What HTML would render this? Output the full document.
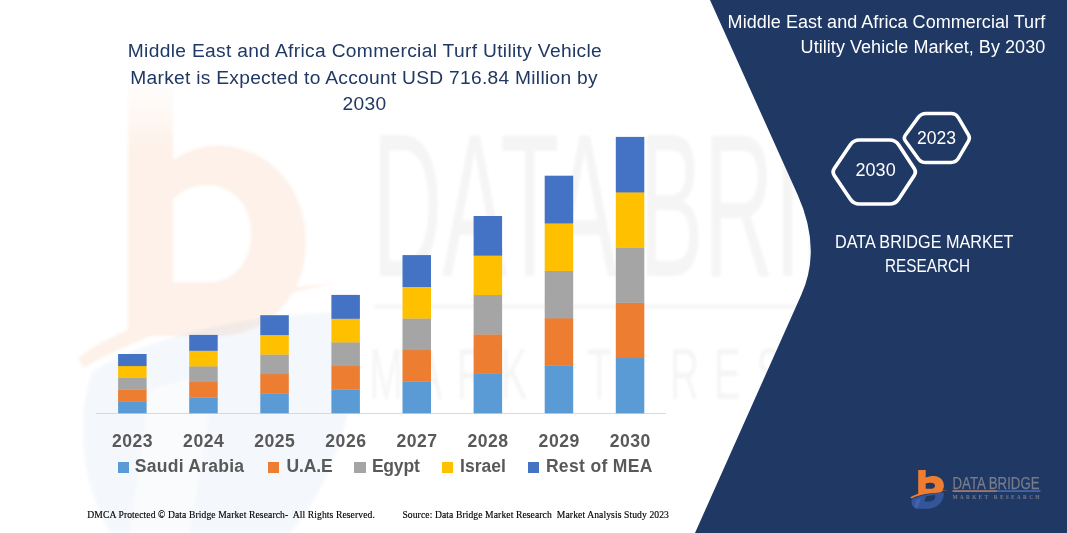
<!DOCTYPE html>
<html><head><meta charset="utf-8">
<style>
html,body{margin:0;padding:0;}
body{width:1067px;height:533px;position:relative;overflow:hidden;background:#fff;font-family:"Liberation Sans",sans-serif;}
.abs{position:absolute;white-space:nowrap;}
#bg{position:absolute;left:0;top:0;}
.t1{color:#203864;font-size:19.2px;line-height:26.25px;letter-spacing:0.28px;}
.t2{color:#fff;font-size:18px;line-height:24px;}
.yr{color:#595959;font-weight:bold;font-size:17.6px;line-height:20px;text-align:center;width:60px;letter-spacing:0.5px;text-indent:0.5px;}
.lg{color:#595959;font-weight:bold;font-size:17.5px;line-height:20px;}
.ft{font-family:"Liberation Serif",serif;font-size:9.6px;color:#000;-webkit-text-stroke:0.15px #000;line-height:12px;letter-spacing:0.1px;}
</style></head><body>
<svg id="bg" width="1067" height="533" viewBox="0 0 1067 533">
  <!-- faint watermark -->
  <defs>
    <linearGradient id="og" x1="0" y1="0" x2="0" y2="1">
      <stop offset="0" stop-color="#ED7D31" stop-opacity="0.15"/>
      <stop offset="0.25" stop-color="#ED7D31" stop-opacity="1"/>
      <stop offset="1" stop-color="#ED7D31" stop-opacity="1"/>
    </linearGradient>
    <filter id="bl" x="-5%" y="-5%" width="110%" height="110%"><feGaussianBlur stdDeviation="1.5"/></filter>
  </defs>
  <g opacity="0.10" filter="url(#bl)">
    <path d="M128,87 L173,87 L173,160 C190,148 210,144 225,146 C272,150 306,190 306,242 C306,296 268,336 215,336 L128,336 Z M173,200 L173,282 L212,282 C236,280 251,260 251,234 C251,206 234,186 208,185 C195,185 182,190 173,200 Z" fill="url(#og)" fill-rule="evenodd"/>
    <path d="M78,358 C130,318 240,290 336,283 C250,300 150,330 84,368 Z" fill="#ED7D31"/>
  </g>
  <g opacity="0.05" filter="url(#bl)">
    <path d="M92,372 C150,335 260,312 350,312 C365,370 345,470 290,533 L110,533 C80,480 76,420 92,372 Z" fill="#4472C4"/>
    <path d="M150,390 L215,372 L190,533 L130,533 Z" fill="#fff" opacity="0.6"/>
  </g>
  <g opacity="0.04" fill="#000" font-family="Liberation Sans" filter="url(#bl)">
    <text x="372" y="276" font-size="205" textLength="640" lengthAdjust="spacingAndGlyphs">DATA BRIDGE</text>
    <text transform="translate(373,399) scale(0.56,1)" font-size="72" text-anchor="middle" x="23.2 99.4 175.5 251.7 327.8 404.0 480.1 556.2 632.4 708.5 784.7 860.8 937.0 1013.1 1089.3" y="0">MARKET RESEARCH</text>
    <rect x="374" y="304.5" width="626" height="4"/>
  </g>
  <!-- right panel -->
  <path d="M710,0 L797.75,195 Q822,249 801.2,295 L695,533 L1067,533 L1067,0 Z" fill="#1F3864"/>
  <!-- axis -->
  <rect x="96" y="413" width="570" height="1" fill="#D9D9D9"/>
  <!-- bars -->
  <g id="bars">
    <rect x="118.10" y="401.20" width="28.5" height="12.10" fill="#5B9BD5"/>
    <rect x="118.10" y="389.40" width="28.5" height="12.10" fill="#ED7D31"/>
    <rect x="118.10" y="377.60" width="28.5" height="12.10" fill="#A5A5A5"/>
    <rect x="118.10" y="365.80" width="28.5" height="12.10" fill="#FFC000"/>
    <rect x="118.10" y="354.00" width="28.5" height="12.10" fill="#4472C4"/>
    <rect x="189.20" y="397.38" width="28.5" height="15.92" fill="#5B9BD5"/>
    <rect x="189.20" y="381.76" width="28.5" height="15.92" fill="#ED7D31"/>
    <rect x="189.20" y="366.14" width="28.5" height="15.92" fill="#A5A5A5"/>
    <rect x="189.20" y="350.52" width="28.5" height="15.92" fill="#FFC000"/>
    <rect x="189.20" y="334.90" width="28.5" height="15.92" fill="#4472C4"/>
    <rect x="260.30" y="393.44" width="28.5" height="19.86" fill="#5B9BD5"/>
    <rect x="260.30" y="373.88" width="28.5" height="19.86" fill="#ED7D31"/>
    <rect x="260.30" y="354.32" width="28.5" height="19.86" fill="#A5A5A5"/>
    <rect x="260.30" y="334.76" width="28.5" height="19.86" fill="#FFC000"/>
    <rect x="260.30" y="315.20" width="28.5" height="19.86" fill="#4472C4"/>
    <rect x="331.40" y="389.38" width="28.5" height="23.92" fill="#5B9BD5"/>
    <rect x="331.40" y="365.76" width="28.5" height="23.92" fill="#ED7D31"/>
    <rect x="331.40" y="342.14" width="28.5" height="23.92" fill="#A5A5A5"/>
    <rect x="331.40" y="318.52" width="28.5" height="23.92" fill="#FFC000"/>
    <rect x="331.40" y="294.90" width="28.5" height="23.92" fill="#4472C4"/>
    <rect x="402.50" y="381.42" width="28.5" height="31.88" fill="#5B9BD5"/>
    <rect x="402.50" y="349.84" width="28.5" height="31.88" fill="#ED7D31"/>
    <rect x="402.50" y="318.26" width="28.5" height="31.88" fill="#A5A5A5"/>
    <rect x="402.50" y="286.68" width="28.5" height="31.88" fill="#FFC000"/>
    <rect x="402.50" y="255.10" width="28.5" height="31.88" fill="#4472C4"/>
    <rect x="473.60" y="373.60" width="28.5" height="39.70" fill="#5B9BD5"/>
    <rect x="473.60" y="334.20" width="28.5" height="39.70" fill="#ED7D31"/>
    <rect x="473.60" y="294.80" width="28.5" height="39.70" fill="#A5A5A5"/>
    <rect x="473.60" y="255.40" width="28.5" height="39.70" fill="#FFC000"/>
    <rect x="473.60" y="216.00" width="28.5" height="39.70" fill="#4472C4"/>
    <rect x="544.70" y="365.54" width="28.5" height="47.76" fill="#5B9BD5"/>
    <rect x="544.70" y="318.08" width="28.5" height="47.76" fill="#ED7D31"/>
    <rect x="544.70" y="270.62" width="28.5" height="47.76" fill="#A5A5A5"/>
    <rect x="544.70" y="223.16" width="28.5" height="47.76" fill="#FFC000"/>
    <rect x="544.70" y="175.70" width="28.5" height="47.76" fill="#4472C4"/>
    <rect x="615.80" y="357.78" width="28.5" height="55.52" fill="#5B9BD5"/>
    <rect x="615.80" y="302.56" width="28.5" height="55.52" fill="#ED7D31"/>
    <rect x="615.80" y="247.34" width="28.5" height="55.52" fill="#A5A5A5"/>
    <rect x="615.80" y="192.12" width="28.5" height="55.52" fill="#FFC000"/>
    <rect x="615.80" y="136.90" width="28.5" height="55.52" fill="#4472C4"/>
  </g>
  <!-- hexagons -->
  <path d="M834.3,175.5 Q832.0,172.0 834.3,168.5 L850.2,145.0 Q853.5,140.0 859.5,140.0 L889.5,140.0 Q895.5,140.0 898.8,145.0 L914.2,168.5 Q916.5,172.0 914.2,175.5 L898.8,199.0 Q895.5,204.0 889.5,204.0 L859.5,204.0 Q853.5,204.0 850.2,199.0 Z" fill="#1F3864" stroke="#fff" stroke-width="3.7" stroke-linejoin="round"/>
  <path d="M905.3,140.8 Q903.3,138.0 905.3,135.2 L918.1,117.6 Q921.0,113.5 926.0,113.5 L951.0,113.5 Q956.0,113.5 958.5,117.8 L968.5,135.0 Q970.3,138.0 968.5,141.0 L958.5,158.2 Q956.0,162.5 951.0,162.5 L926.0,162.5 Q921.0,162.5 918.1,158.4 Z" fill="#1F3864" stroke="#fff" stroke-width="3.5" stroke-linejoin="round"/>
  <!-- logo -->
  <g>
    <path d="M918.2,470 L925.7,470 L925.7,477.6 C929,476 933,475.6 936,476.2 C941,477.2 943.9,481 943.9,485.5 C943.9,488.5 942.6,491 940.5,492.6 L918.2,494.5 Z M925.7,483.6 L925.7,488.8 L931.5,488.8 C933.8,488.6 935,487.4 935,485.8 C935,483.8 933.4,482.8 931,482.8 C928.8,482.8 927,483 925.7,483.6 Z" fill="#ED7D31" fill-rule="evenodd"/>
    <path d="M910.2,497.2 C918,492.6 934,490.2 948,490.6 C936,491.4 921,494 911.5,498.6 Z" fill="#ED7D31"/>
    <path d="M912.5,498.6 C921,495 934,492.6 943.8,492.4 C944.4,499.5 939,507.5 929,508.8 L915.5,508.8 C911.5,506.5 910.5,502 912.5,498.6 Z" fill="#35559B"/>
    <path d="M926,496.2 L934.8,495 C936,498 934,500.8 930.5,501.4 L924.5,501.6 Z" fill="#1F3864"/>
    <path d="M916,500 L921,498 L917.5,508 L914.5,507 Z" fill="#4A6AB0" opacity="0.7"/>
    <rect x="952.5" y="490.3" width="45" height="1.5" fill="#B98573"/>
    <rect x="997.5" y="490.3" width="43" height="1.5" fill="#4A6FB5"/>
    <text x="952.5" y="488.7" font-family="Liberation Sans" font-size="16.5" fill="#767C8C" stroke="#767C8C" stroke-width="0.25" textLength="87" lengthAdjust="spacingAndGlyphs">DATA BRIDGE</text>
    <text x="952.5" y="498.8" font-family="Liberation Serif" font-weight="bold" font-size="5.4" fill="#767C8C" textLength="87" lengthAdjust="spacing">MARKET RESEARCH</text>
  </g>
</svg>

<div class="abs t1" id="l1" style="left:127.8px;top:38.4px;letter-spacing:0.33px;">Middle East and Africa Commercial Turf Utility Vehicle</div>
<div class="abs t1" id="l2" style="left:130.3px;top:64.65px;">Market is Expected to Account USD 716.84 Million by</div>
<div class="abs t1" id="l3" style="left:342.6px;top:90.9px;">2030</div>

<div class="abs t2" id="r1" style="left:727.6px;top:10.2px;letter-spacing:0.04px;">Middle East and Africa Commercial Turf</div>
<div class="abs t2" id="r2" style="left:800.6px;top:34.6px;letter-spacing:0.05px;">Utility Vehicle Market, By 2030</div>

<div class="abs t2" id="h1" style="left:855.6px;top:158px;">2030</div>
<div class="abs t2" id="h2" style="left:917px;top:126px;font-size:17.5px;">2023</div>

<div class="abs t2" id="d1" style="left:835.1px;top:229.6px;font-size:17.6px;transform-origin:0 0;transform:scaleX(0.92);">DATA BRIDGE MARKET</div>
<div class="abs t2" id="d2" style="left:885px;top:253.8px;font-size:17.6px;transform-origin:0 0;transform:scaleX(0.87);">RESEARCH</div>

<div id="years">
<div class="abs yr" style="left:102.35px;top:430.6px;">2023</div>
<div class="abs yr" style="left:173.45px;top:430.6px;">2024</div>
<div class="abs yr" style="left:244.55px;top:430.6px;">2025</div>
<div class="abs yr" style="left:315.65px;top:430.6px;">2026</div>
<div class="abs yr" style="left:386.75px;top:430.6px;">2027</div>
<div class="abs yr" style="left:457.85px;top:430.6px;">2028</div>
<div class="abs yr" style="left:528.95px;top:430.6px;">2029</div>
<div class="abs yr" style="left:600.05px;top:430.6px;">2030</div>
</div>

<div class="abs" style="left:118.3px;top:462.2px;width:11.2px;height:11.2px;background:#5B9BD5"></div>
<div class="abs lg" id="g1" style="letter-spacing:0.27px;left:134.8px;top:456px;">Saudi Arabia</div>
<div class="abs" style="left:268px;top:462.2px;width:11.2px;height:11.2px;background:#ED7D31"></div>
<div class="abs lg" id="g2" style="letter-spacing:-0.1px;left:286.4px;top:456px;">U.A.E</div>
<div class="abs" style="left:354.4px;top:462.2px;width:11.2px;height:11.2px;background:#A5A5A5"></div>
<div class="abs lg" id="g3" style="letter-spacing:-0.2px;left:371.9px;top:456px;">Egypt</div>
<div class="abs" style="left:441.9px;top:462.2px;width:11.2px;height:11.2px;background:#FFC000"></div>
<div class="abs lg" id="g4" style="letter-spacing:0.03px;left:460.1px;top:456px;">Israel</div>
<div class="abs" style="left:528.3px;top:462.2px;width:11.2px;height:11.2px;background:#4472C4"></div>
<div class="abs lg" id="g5" style="letter-spacing:0.34px;left:545.9px;top:456px;">Rest of MEA</div>

<div class="abs ft" id="f1" style="left:87.3px;top:508.7px;">DMCA Protected © Data Bridge Market Research-&nbsp; All Rights Reserved.</div>
<div class="abs ft" id="f2" style="left:402.4px;top:508.7px;">Source: Data Bridge Market Research&nbsp; Market Analysis Study 2023</div>

</body></html>
